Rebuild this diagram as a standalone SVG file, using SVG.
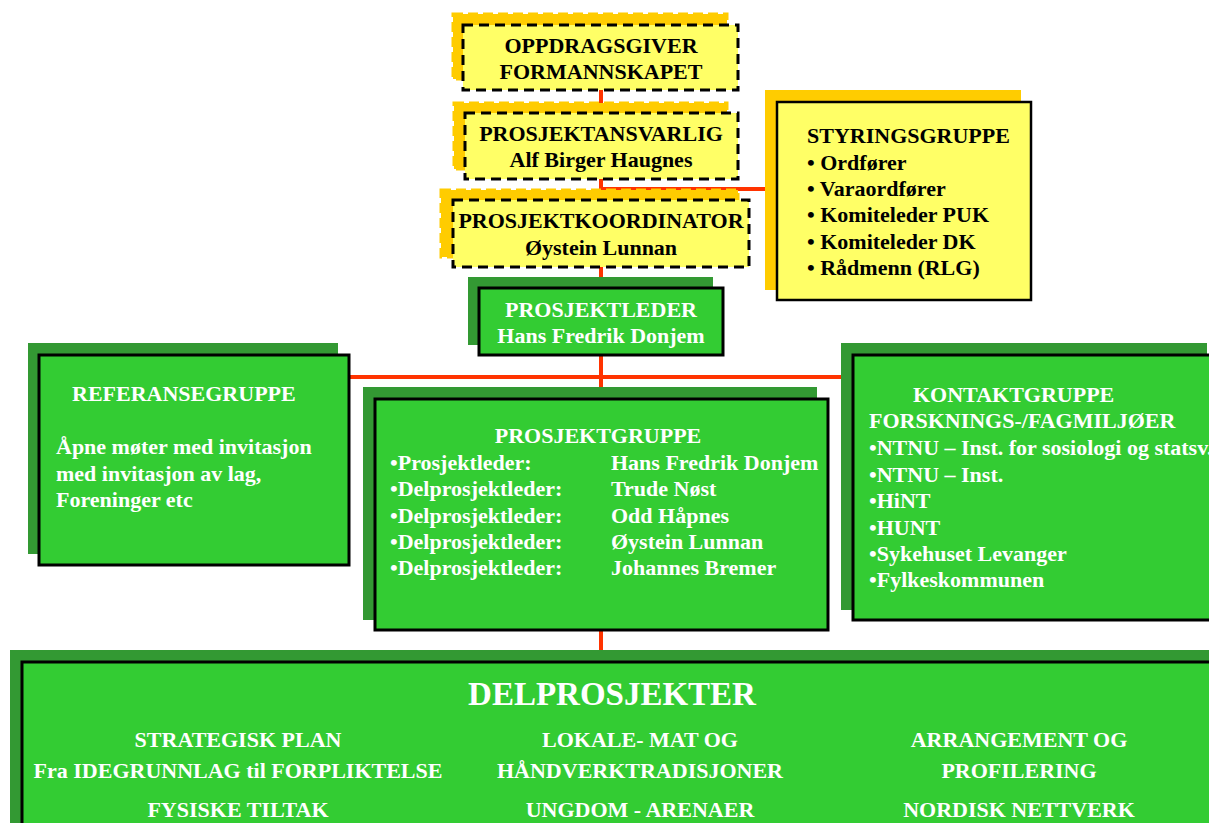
<svg xmlns="http://www.w3.org/2000/svg" width="1209" height="823" viewBox="0 0 1209 823">
<style>
text{font-family:"Liberation Serif","Times New Roman",serif;font-weight:bold;font-size:22px}
.dk{fill:#000}
.wt{fill:#fff}
.c{text-anchor:middle}
.yshd{fill:#FFCC00;stroke:#FFCC00;stroke-width:3;stroke-dasharray:10 5}
.ybox{fill:#FFFF66;stroke:#000;stroke-width:3;stroke-dasharray:10 6}
.ysolid{fill:#FFFF66;stroke:#000;stroke-width:2.5}
.ysh2{fill:#FFCC00}
.gshd{fill:#339933}
.gbox{fill:#33CC33;stroke:#000;stroke-width:3}
.ln{stroke:#FF3300;stroke-width:4;fill:none}
</style>
<rect width="1209" height="823" fill="#fff"/>
<g id="connectors">
<line class="ln" x1="601" y1="90" x2="601" y2="662"/>
<line class="ln" x1="601" y1="189" x2="767" y2="189"/>
<line class="ln" x1="349" y1="377" x2="843" y2="377"/>
</g>
<g id="oppdragsgiver">
<rect class="yshd" x="453" y="14" width="274" height="65"/>
<rect class="ybox" x="463" y="25" width="275" height="65"/>
<text class="dk c" x="601" y="53">OPPDRAGSGIVER</text>
<text class="dk c" x="601" y="79">FORMANNSKAPET</text>
</g>
<g id="prosjektansvarlig">
<rect class="yshd" x="454" y="103" width="273" height="66"/>
<rect class="ybox" x="465" y="113" width="273" height="66"/>
<text class="dk c" x="601" y="141">PROSJEKTANSVARLIG</text>
<text class="dk c" x="601" y="167">Alf Birger Haugnes</text>
</g>
<g id="prosjektkoordinator">
<rect class="yshd" x="441" y="190" width="297" height="67"/>
<rect class="ybox" x="453" y="200" width="296" height="67"/>
<text class="dk c" x="601" y="228">PROSJEKTKOORDINATOR</text>
<text class="dk c" x="601" y="255">Øystein Lunnan</text>
</g>
<g id="styringsgruppe">
<rect class="ysh2" x="765" y="90" width="256" height="200"/>
<rect class="ysolid" x="777" y="102" width="254" height="198"/>
<text class="dk" x="807" y="143">STYRINGSGRUPPE</text>
<text class="dk" x="807" y="170">• Ordfører</text>
<text class="dk" x="807" y="196">• Varaordfører</text>
<text class="dk" x="807" y="222">• Komiteleder PUK</text>
<text class="dk" x="807" y="249">• Komiteleder DK</text>
<text class="dk" x="807" y="275">• Rådmenn (RLG)</text>
</g>
<g id="prosjektleder">
<rect class="gshd" x="468" y="277" width="245" height="68"/>
<rect class="gbox" x="479" y="288" width="244" height="67"/>
<text class="wt c" x="601" y="317">PROSJEKTLEDER</text>
<text class="wt c" x="601" y="343">Hans Fredrik Donjem</text>
</g>
<g id="referansegruppe">
<rect class="gshd" x="28" y="343" width="310" height="211"/>
<rect class="gbox" x="39" y="355" width="310" height="210"/>
<text class="wt" x="72" y="401">REFERANSEGRUPPE</text>
<text class="wt" x="56" y="454">Åpne møter med invitasjon</text>
<text class="wt" x="56" y="481">med invitasjon av lag,</text>
<text class="wt" x="56" y="507">Foreninger etc</text>
</g>
<g id="prosjektgruppe">
<rect class="gshd" x="363" y="387" width="454" height="233"/>
<rect class="gbox" x="375" y="399" width="453" height="231"/>
<text class="wt c" x="598" y="443">PROSJEKTGRUPPE</text>
<text class="wt" x="390" y="470">•Prosjektleder:</text>
<text class="wt" x="390" y="496">•Delprosjektleder:</text>
<text class="wt" x="390" y="523">•Delprosjektleder:</text>
<text class="wt" x="390" y="549">•Delprosjektleder:</text>
<text class="wt" x="390" y="575">•Delprosjektleder:</text>
<text class="wt" x="611" y="470">Hans Fredrik Donjem</text>
<text class="wt" x="611" y="496">Trude Nøst</text>
<text class="wt" x="611" y="523">Odd Håpnes</text>
<text class="wt" x="611" y="549">Øystein Lunnan</text>
<text class="wt" x="611" y="575">Johannes Bremer</text>
</g>
<g id="kontaktgruppe">
<rect class="gshd" x="841" y="343" width="366" height="267"/>
<rect class="gbox" x="853" y="355" width="380" height="265"/>
<text class="wt" x="913" y="402">KONTAKTGRUPPE</text>
<text class="wt" x="869" y="428">FORSKNINGS-/FAGMILJØER</text>
<text class="wt" x="869" y="455">•NTNU – Inst. for sosiologi og statsv.</text>
<text class="wt" x="869" y="482">•NTNU – Inst.</text>
<text class="wt" x="869" y="508">•HiNT</text>
<text class="wt" x="869" y="535">•HUNT</text>
<text class="wt" x="869" y="561">•Sykehuset Levanger</text>
<text class="wt" x="869" y="587">•Fylkeskommunen</text>
</g>
<g id="delprosjekter">
<rect class="gshd" x="10" y="650" width="1210" height="190"/>
<rect class="gbox" x="22" y="662" width="1210" height="190"/>
<text class="wt c" x="612" y="705" style="font-size:33px">DELPROSJEKTER</text>
<text class="wt c" x="238" y="747">STRATEGISK PLAN</text>
<text class="wt c" x="238" y="778">Fra IDEGRUNNLAG til FORPLIKTELSE</text>
<text class="wt c" x="238" y="817">FYSISKE TILTAK</text>
<text class="wt c" x="640" y="747">LOKALE- MAT OG</text>
<text class="wt c" x="640" y="778">HÅNDVERKTRADISJONER</text>
<text class="wt c" x="640" y="817">UNGDOM - ARENAER</text>
<text class="wt c" x="1019" y="747">ARRANGEMENT OG</text>
<text class="wt c" x="1019" y="778">PROFILERING</text>
<text class="wt c" x="1019" y="817">NORDISK NETTVERK</text>
</g>
</svg>
